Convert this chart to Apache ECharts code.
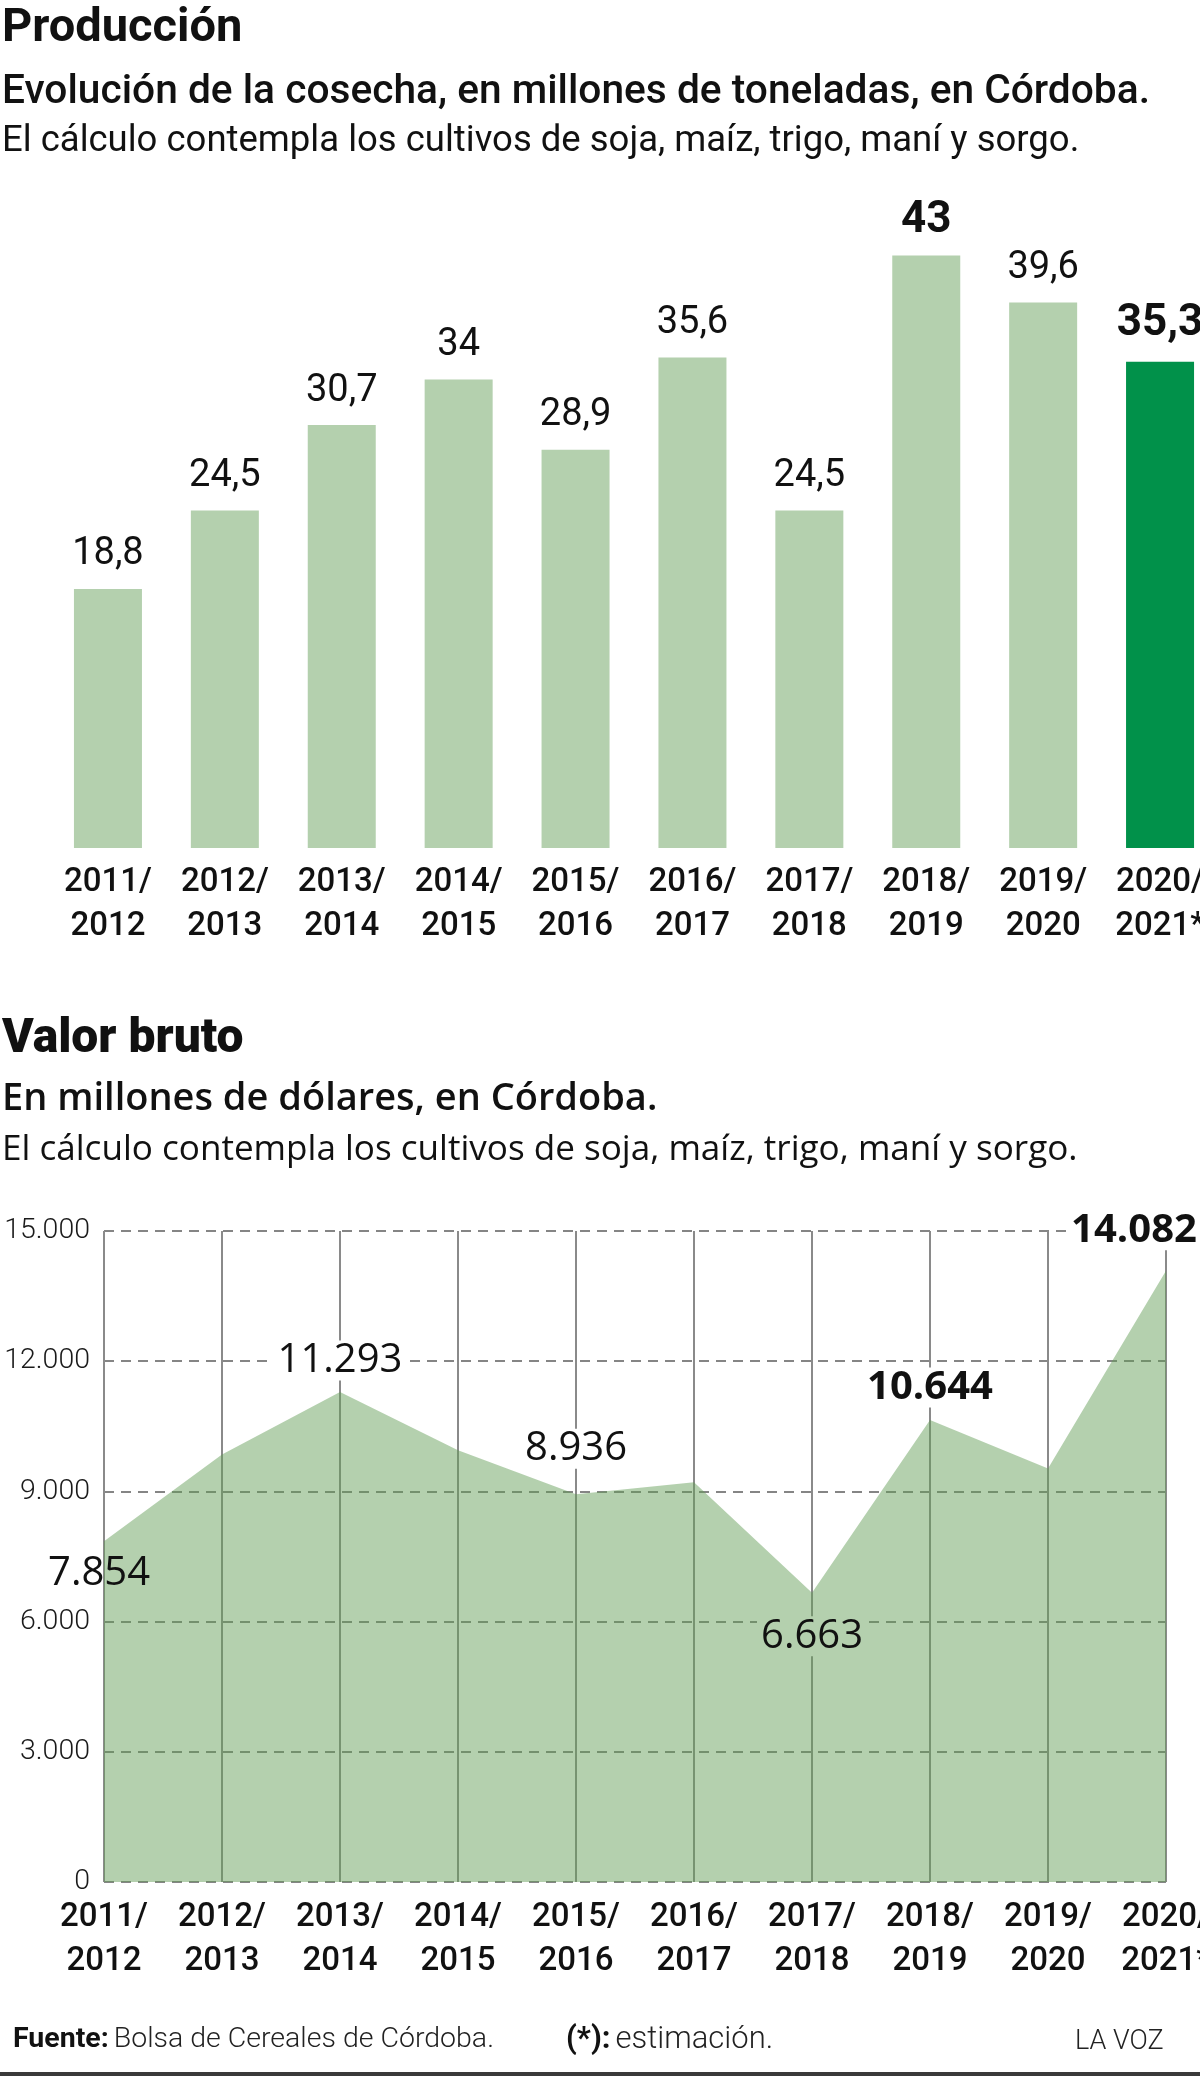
<!DOCTYPE html>
<html>
<head>
<meta charset="UTF-8">
<title>Producción y valor bruto - Córdoba</title>
<script src="https://cdn.jsdelivr.net/npm/echarts@6/dist/echarts.min.js"></script>
<style>
body { margin: 0; background: #fff; }
#chart { width: 1200px; height: 2076px; }
</style>
</head>
<body>
<div id="chart"></div>
<script>
// campañas
var campanias = ['2011/\n2012', '2012/\n2013', '2013/\n2014', '2014/\n2015', '2015/\n2016',
                 '2016/\n2017', '2017/\n2018', '2018/\n2019', '2019/\n2020', '2020/\n2021*'];
// cosecha, millones de toneladas
var cosecha = [18.8, 24.5, 30.7, 34, 28.9, 35.6, 24.5, 43, 39.6, 35.3];
// valor bruto, millones de dólares (los sin etiqueta estimados del dibujo)
var valorBruto = [7854, 9850, 11293, 9950, 8936, 9210, 6663, 10644, 9530, 14082];
var valorMin = 0, valorMax = 15000, valorPaso = 3000;

var cosechaDestacada = [7, 9];
var cosechaEstimada = 9;
var valorConEtiqueta = [0, 2, 4, 6, 7, 9];
var valorDestacado = [7, 9];

var VERDE = '#b4d0ae', VERDE_OSC = '#01914a';
var FUENTE = 'Roboto';

function miles(v) { return String(v).replace(/\B(?=(\d{3})+(?!\d))/g, '.'); }
function coma(v) { return String(v).replace('.', ','); }

// donde va cada etiqueta de la linea: [lado, distancia, dx, fondo]
var etiquetaLinea = {
    0: ['bottom', 12, -5, null],
    2: ['top', 11, 0, '#fff'],
    4: ['top', 25, 0, '#fff'],
    6: ['bottom', 23, 0, VERDE],
    7: ['top', 12, 0, '#fff'],
    9: ['top', 20, -32, '#fff']
};

var barras = cosecha.map(function (v, i) {
    var fuerte = cosechaDestacada.indexOf(i) >= 0;
    return {
        value: v,
        itemStyle: { color: i === cosechaEstimada ? VERDE_OSC : VERDE },
        label: { fontWeight: fuerte ? 'bold' : 'normal', fontSize: fuerte ? 44 : 38, distance: i === 7 ? 16 : (fuerte ? 19 : 15) }
    };
});

var puntos = valorBruto.map(function (v, i) {
    var e = etiquetaLinea[i];
    if (valorConEtiqueta.indexOf(i) < 0 || !e) return { value: v, label: { show: false } };
    return {
        value: v,
        label: {
            show: true,
            position: e[0],
            distance: e[1],
            offset: [e[2], 0],
            backgroundColor: e[3] || 'transparent',
            fontWeight: valorDestacado.indexOf(i) >= 0 ? 'bold' : 'normal'
        }
    };
});

function titulo(texto, top, fam, peso, size, lh) {
    return {
        text: texto, left: 2, top: top, padding: 0,
        textStyle: { fontFamily: fam, fontWeight: peso, fontSize: size, lineHeight: lh, color: '#111' }
    };
}

function pie(size) {
    return {
        b: { fontFamily: FUENTE, fontWeight: 'bold', fontSize: size, lineHeight: 36, color: '#111' },
        n: { fontFamily: FUENTE, fontWeight: 300, fontSize: size, lineHeight: 36, color: '#222' }
    };
}

var chart = echarts.init(document.getElementById('chart'), null, { renderer: 'canvas' });

var option = {
    backgroundColor: '#fff',
    animation: false,
    title: [
        titulo('Producción', 5, FUENTE, 'bold', 47, 48),
        titulo('Evolución de la cosecha, en millones de toneladas, en Córdoba.', 73, FUENTE, 500, 40.7, 40),
        titulo('El cálculo contempla los cultivos de soja, maíz, trigo, maní y sorgo.', 122, FUENTE, 'normal', 36.5, 40),
        titulo('Valor bruto', 1016, FUENTE, 900, 48, 48),
        titulo('En millones de dólares, en Córdoba.', 1079, "'Open Sans'", 600, 38, 40),
        titulo('El cálculo contempla los cultivos de soja, maíz, trigo, maní y sorgo.', 1130, "'Open Sans'", 'normal', 35.1, 40),
        { text: '{b|Fuente:} {n|Bolsa de Cereales de Córdoba.}', left: 13, top: 2022, padding: 0, textStyle: { rich: pie(28.5) } },
        { text: '{b|(*):} {n|estimación.}', left: 566, top: 2022, padding: 0, textStyle: { rich: pie(31) } },
        {
            text: 'LA VOZ', left: 1075, top: 2024, padding: 0,
            textStyle: { fontFamily: FUENTE, fontWeight: 300, fontSize: 27, lineHeight: 36, color: '#222' }
        }
    ],
    graphic: [
        { type: 'rect', shape: { x: 0, y: 2072, width: 1200, height: 4 }, style: { fill: '#3a3a3a' } }
    ],
    grid: [
        { left: 49.5, top: 228, width: 1169, height: 620, outerBoundsMode: 'none', containLabel: false },
        { left: 104, top: 1231, width: 1062, height: 651, outerBoundsMode: 'none', containLabel: false }
    ],
    xAxis: [
        {
            type: 'category', gridIndex: 0, data: campanias,
            axisLine: { show: false }, axisTick: { show: false },
            axisLabel: { interval: 0, margin: 13, fontFamily: FUENTE, fontWeight: 500, fontSize: 33, lineHeight: 44, color: '#111' }
        },
        {
            type: 'category', gridIndex: 1, data: campanias, boundaryGap: false,
            axisLine: { show: false }, axisTick: { show: false },
            splitLine: { show: true, lineStyle: { color: '#8a8a8a', width: 2, type: 'solid' } },
            axisLabel: { interval: 0, margin: 14, fontFamily: FUENTE, fontWeight: 500, fontSize: 33, lineHeight: 44, color: '#111' }
        }
    ],
    yAxis: [
        { type: 'value', gridIndex: 0, min: 0, max: 45, show: false },
        {
            type: 'value', gridIndex: 1, min: valorMin, max: valorMax, interval: valorPaso,
            axisLine: { show: false }, axisTick: { show: false },
            splitLine: { lineStyle: { color: '#858585', width: 2, type: [10, 7] } },
            axisLabel: { margin: 14, fontFamily: FUENTE, fontWeight: 300, fontSize: 28.5, color: '#1a1a1a', formatter: miles }
        }
    ],
    series: [
        {
            type: 'bar', xAxisIndex: 0, yAxisIndex: 0, barWidth: 68,
            data: barras,
            label: {
                show: true, position: 'top', fontFamily: FUENTE, color: '#111', lineHeight: 38,
                formatter: function (p) { return coma(p.value); }
            }
        },
        {
            type: 'line', xAxisIndex: 1, yAxisIndex: 1, data: puntos,
            symbol: 'circle', symbolSize: 1, showSymbol: true,
            itemStyle: { color: 'rgba(0,0,0,0)' },
            lineStyle: { width: 0 },
            areaStyle: { color: 'rgba(99,157,86,0.48)', opacity: 1 },
            label: {
                fontFamily: "'Open Sans'", fontSize: 40, lineHeight: 40, color: '#111', padding: [0, 4],
                formatter: function (p) { return miles(p.value); }
            }
        }
    ]
};

chart.setOption(option);
</script>
</body>
</html>
